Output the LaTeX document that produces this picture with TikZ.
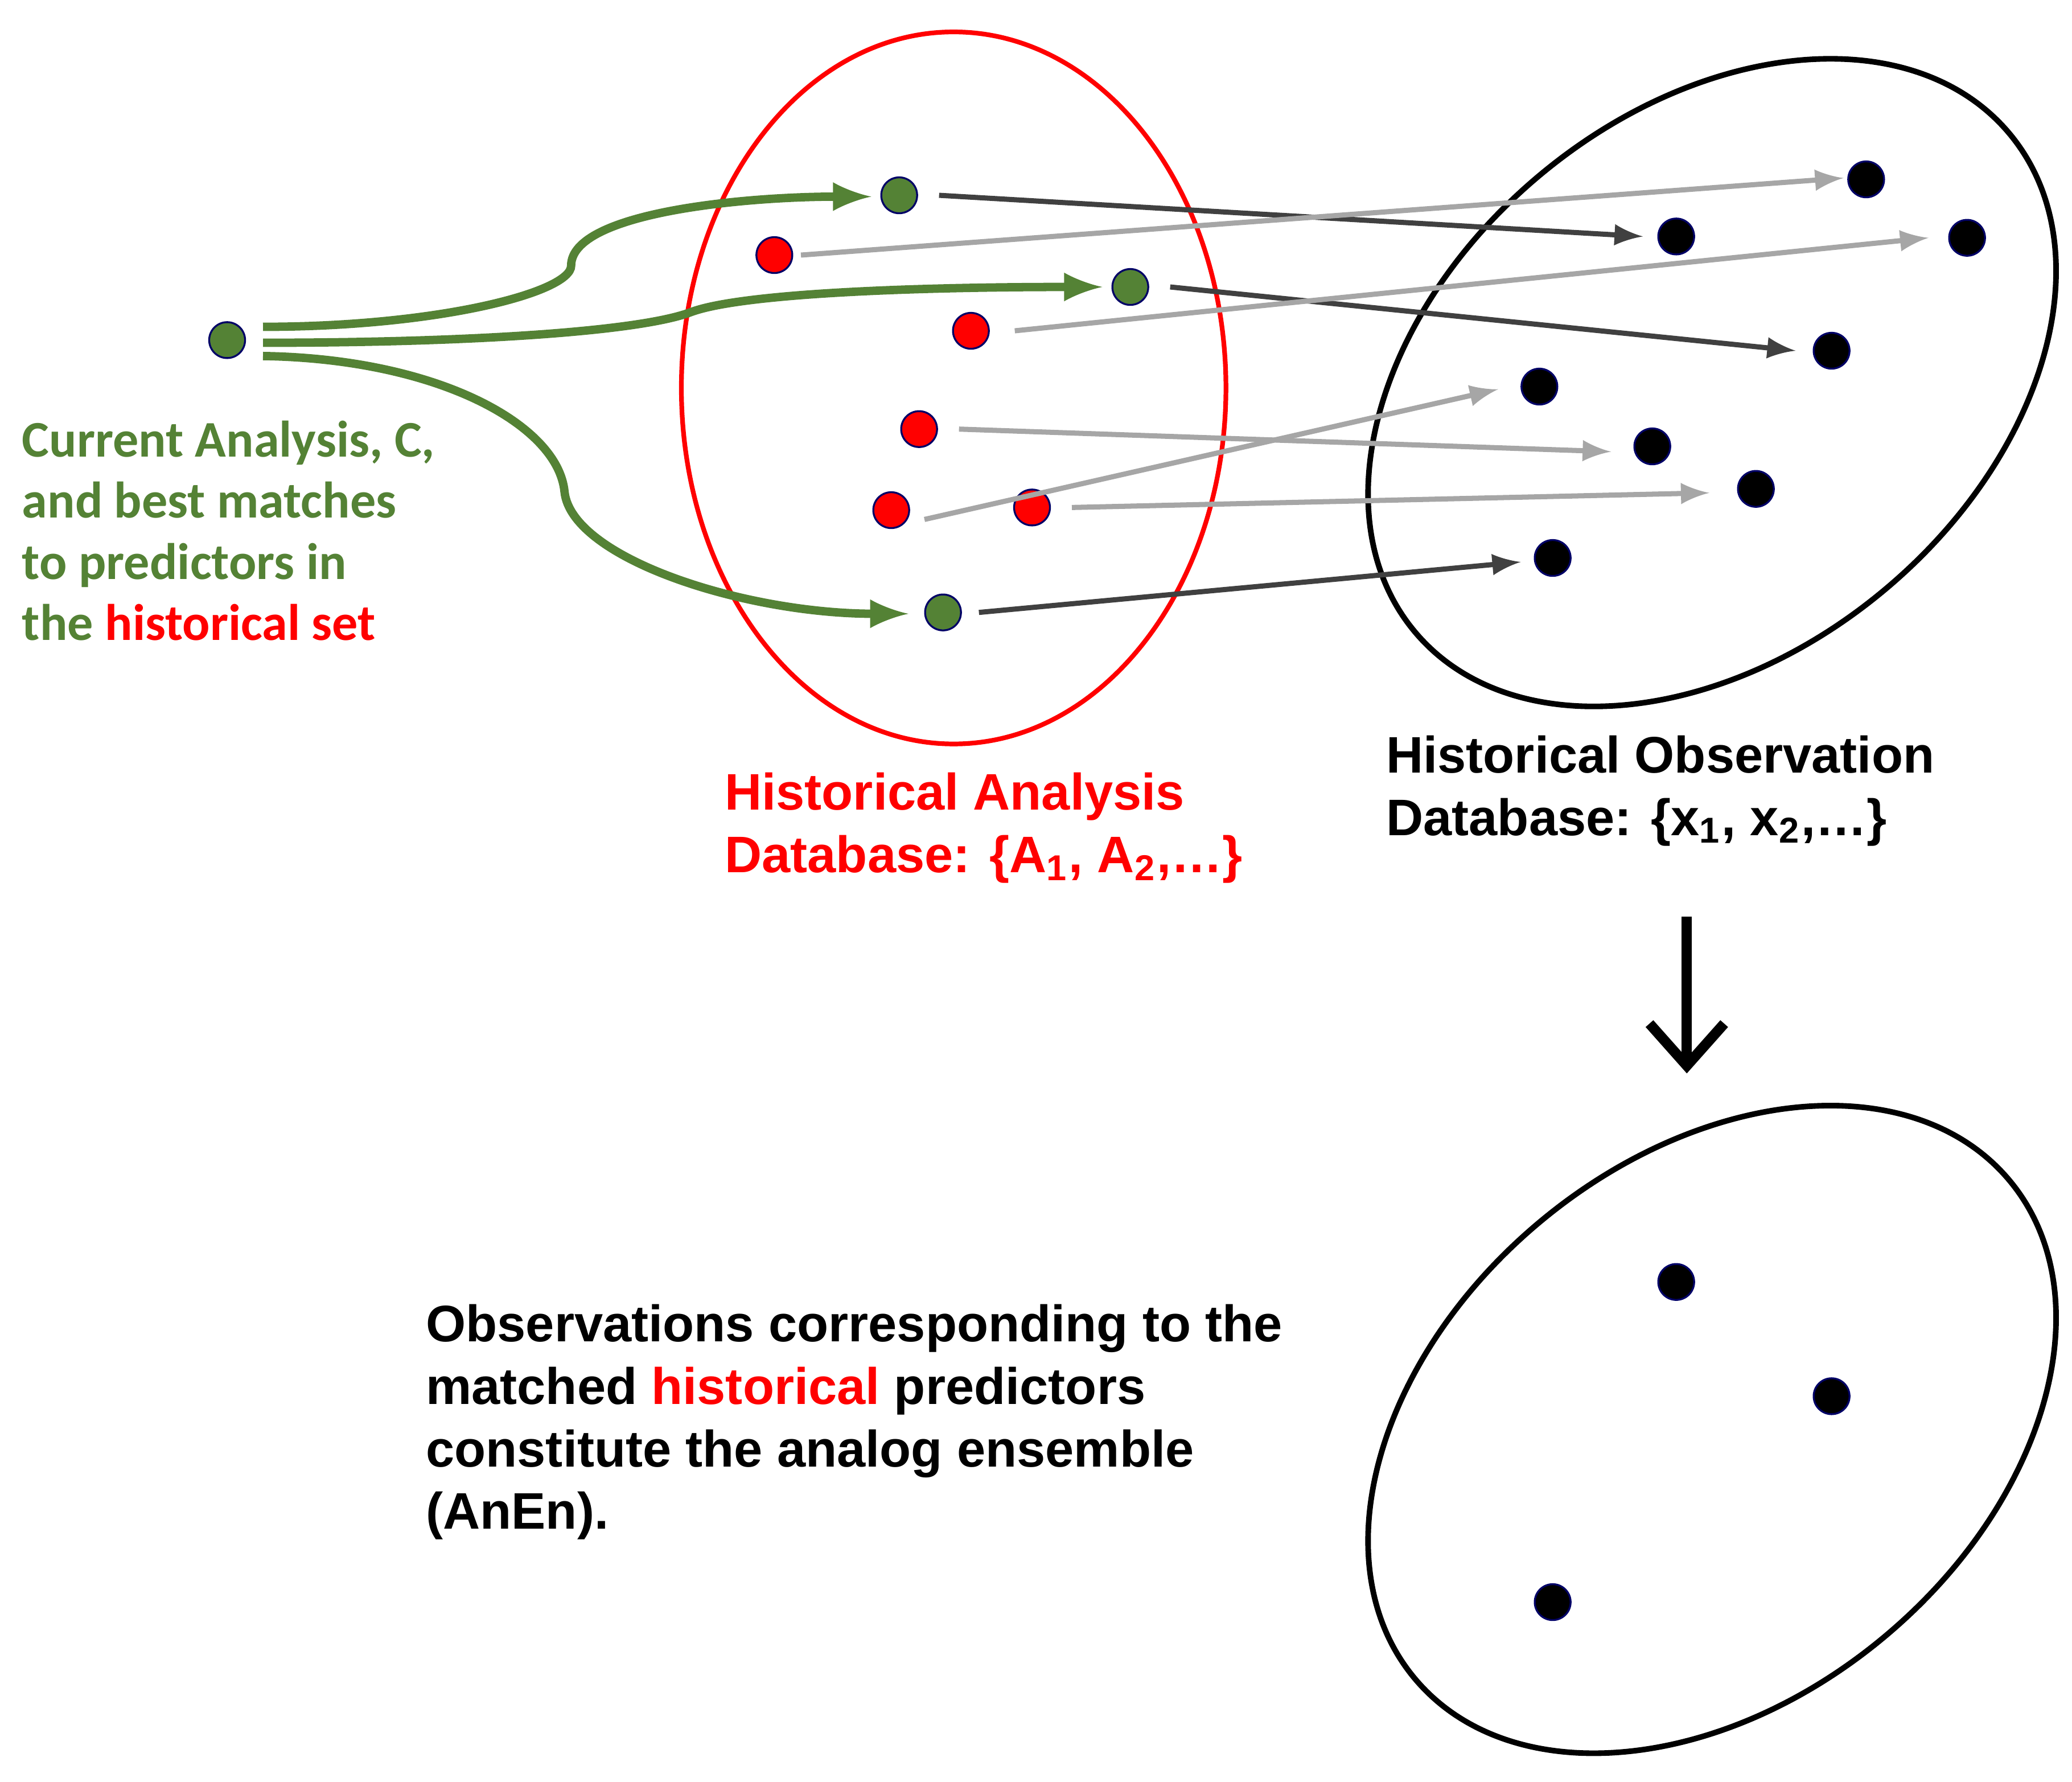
\documentclass[tikz,border=0pt]{standalone}
\usepackage{fontspec}
\usetikzlibrary{arrows.meta}
\setmainfont{Liberation Sans}
\newfontfamily\carl{Carlito}
\begin{document}
\begin{tikzpicture}[x=0.01cm,y=-0.01cm,
 dot/.style={circle,draw=blue!40!black,line width=0.4pt,minimum size=0.27cm,inner sep=0},
 gdot/.style={dot,fill=gc},rdot/.style={dot,fill=red},bdot/.style={dot,fill=black},
 dk/.style={draw=black!75,line width=1.1pt,-latex},
 gy/.style={draw=black!35,line width=1.1pt,-latex},
 gr/.style={draw=gc,line width=1.8pt,-latex},
 txt/.style={font=\bfseries\fontsize{11}{13.4}\selectfont,align=left,anchor=north west,inner sep=0}]
\definecolor{gc}{RGB}{84,130,53}
\useasboundingbox (0,0) rectangle (1560,1341);
\draw[red,line width=1pt] (718,292) ellipse [x radius=205,y radius=268];
\draw[line width=1.2pt,rotate around={40:(1289,288)}] (1289,288) ellipse [x radius=292,y radius=203];
\draw[line width=1.2pt,rotate around={40:(1289,1076)}] (1289,1076) ellipse [x radius=292,y radius=203];
\node[gdot] (c) at (171,256) {};
\node[gdot] (g1) at (677,147) {};
\node[gdot] (g2) at (851,216) {};
\node[gdot] (g3) at (710,461) {};
\node[rdot] (r1) at (583,192) {};
\node[rdot] (r2) at (731,249) {};
\node[rdot] (r3) at (692,323) {};
\node[rdot] (r4) at (671,384) {};
\node[rdot] (r5) at (777,382) {};
\node[bdot] (b1) at (1405,135) {};
\node[bdot] (b2) at (1262,178) {};
\node[bdot] (b3) at (1481,179) {};
\node[bdot] (b4) at (1379,264) {};
\node[bdot] (b5) at (1159,291) {};
\node[bdot] (b6) at (1244,336) {};
\node[bdot] (b7) at (1322,368) {};
\node[bdot] (b8) at (1169,420) {};
\node[bdot] (d1) at (1262,965) {};
\node[bdot] (d2) at (1379,1051) {};
\node[bdot] (d3) at (1169,1206) {};
\coordinate (t1) at (1237,178); \coordinate (t2) at (1352,264); \coordinate (t3) at (1145,423);
\coordinate (u1) at (1388,134); \coordinate (u2) at (1452,179); \coordinate (u3) at (1213,340);
\coordinate (u4) at (1128,293); \coordinate (u5) at (1287,371);
\draw[dk] ([xshift=0.3cm]g1.center) -- (t1);
\draw[dk] ([xshift=0.3cm]g2.center) -- (t2);
\draw[dk] ([xshift=0.27cm]g3.center) -- (t3);
\draw[gy] ([xshift=0.2cm]r1.center) -- (u1);
\draw[gy] ([xshift=0.33cm]r2.center) -- (u2);
\draw[gy] ([xshift=0.3cm]r3.center) -- (u3);
\draw[gy] ([xshift=0.25cm,yshift=-0.07cm]r4.center) -- (u4);
\draw[gy] ([xshift=0.3cm]r5.center) -- (u5);
\coordinate (s1) at (198,246); \coordinate (s2) at (198,258); \coordinate (s3) at (198,268);
\coordinate (e1) at (656,148); \coordinate (e2) at (830,216); \coordinate (e3) at (684,462);
\draw[gr] (s1) .. controls (330,246) and (430,220) .. (430,200) .. controls (430,160) and (560,148) .. (e1);
\draw[gr] (s2) .. controls (350,258) and (480,250) .. (520,235) .. controls (560,220) and (700,216) .. (e2);
\draw[gr] (s3) .. controls (330,270) and (420,320) .. (425,370) .. controls (430,420) and (560,462) .. (e3);
\coordinate (a0) at (1270,690); \coordinate (a1) at (1270,808);
\draw[line width=2.2pt,-{Straight Barb[length=9pt,width=16pt]}] (a0) -- (a1);
\node[txt,text=gc,font=\carl\bfseries\fontsize{11}{13.1}\selectfont] (lt) at (16,316) {Current Analysis, C,\\and best matches\\to predictors in\\the \textcolor{red}{historical set}};
\node[txt,text=red] (ha) at (545,581) {Historical Analysis\\Database: \{A\textsubscript{1}, A\textsubscript{2},\dots\}};
\node[txt] (ho) at (1043,553) {Historical Observation\\Database: \{x\textsubscript{1}, x\textsubscript{2},\dots\}};
\node[txt] (ob) at (320,981) {Observations corresponding to the\\matched \textcolor{red}{historical} predictors\\constitute the analog ensemble\\(AnEn).};
\end{tikzpicture}
\end{document}
